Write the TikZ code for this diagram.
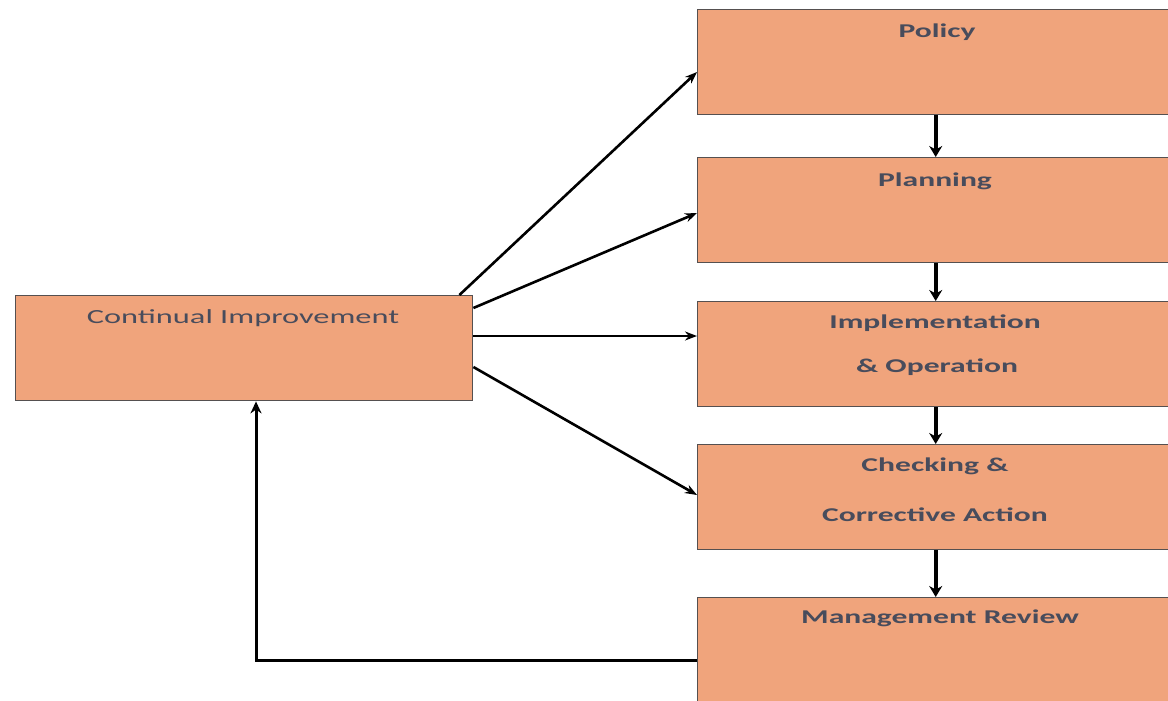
\documentclass[tikz,border=0pt]{standalone}
\usepackage{fontspec}
\setmainfont{Carlito}
\newfontfamily\widefont[FakeStretch=1.62]{Carlito}
\usetikzlibrary{arrows.meta,calc}
\definecolor{boxfill}{RGB}{240,164,124}
\definecolor{boxline}{RGB}{85,80,80}
\definecolor{txt}{RGB}{72,76,92}
\begin{document}
\begin{tikzpicture}[x=1pt,y=1pt,
  box/.style={draw=boxline, line width=1.4pt, fill=boxfill, anchor=north west, inner sep=0pt},
  rbox/.style={box, minimum width=476pt, minimum height=105pt},
  lbl/.style={text=txt, font=\widefont\bfseries\fontsize{19.5}{22}\selectfont, inner sep=0pt},
  clbl/.style={text=txt, font=\widefont\fontsize{20}{24}\selectfont, inner sep=0pt},
  arr/.style={-{Stealth[length=12pt,width=9pt]}, line width=2.6pt},
  farr/.style={-{Stealth[length=12pt,width=11pt]}, line width=3pt},
  varr/.style={-{Stealth[length=11pt,width=13pt]}, line width=4pt}]
\useasboundingbox (0,0) rectangle (1168,-701);
% boxes
\node[box, minimum width=457pt, minimum height=105pt] (ci) at (15,-295) {};
\node[rbox] (pol) at (697,-9) {};
\node[rbox] (pla) at (697,-157) {};
\node[rbox] (imp) at (697,-301) {};
\node[rbox] (chk) at (697,-444) {};
\node[rbox] (mr) at (697,-597) {};
% labels
\node[clbl] (tci) at (243,-318) {Continual Improvement};
\node[lbl] (tpol) at (937,-32) {Policy};
\node[lbl] (tpla) at (935,-181) {Planning};
\node[lbl] (timp1) at (935,-323) {Implementation};
\node[lbl] (timp2) at (937,-367) {\& Operation};
\node[lbl] (tchk1) at (935,-466) {Checking \&};
\node[lbl] (tchk2) at (935,-515) {Corrective Action};
\node[lbl] (tmr) at (940,-618) {Management Review};
% vertical chain
\draw[varr] (pol.south) -- (pla.north);
\draw[varr] (pla.south) -- (imp.north);
\draw[varr] (imp.south) -- (chk.north);
\draw[varr] (chk.south) -- (mr.north);
% fan-out arrows
\draw[arr] ($(ci.north east)+(-14,0)$) -- ($(pol.north west)+(0,-63)$);
\draw[arr] ($(ci.north east)+(0,-13)$) -- ($(pla.north west)+(0,-56)$);
\draw[arr] ($(ci.north east)+(0,-41)$) -- ($(imp.north west)+(0,-35)$);
\draw[arr] ($(ci.north east)+(0,-72)$) -- ($(chk.north west)+(0,-51)$);
% feedback
\draw[farr] ($(mr.north west)+(0,-63)$) -| ($(ci.south west)+(241,0)$);
\end{tikzpicture}
\end{document}
